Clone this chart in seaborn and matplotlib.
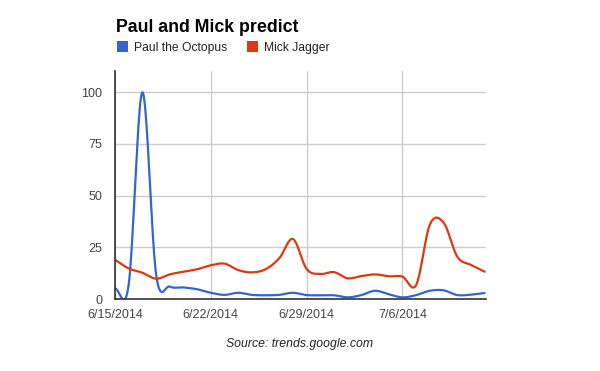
import numpy as np
import pandas as pd
import matplotlib
matplotlib.use("Agg")
import matplotlib.pyplot as plt
from matplotlib.patches import Patch
import seaborn as sns

# ---- data (daily Google Trends interest, 6/15/2014 .. 7/12/2014) ----
days = list(range(28))
paul = [5, 7, 100, 12, 6, 5.6, 4.7, 3, 2, 3, 2, 1.8, 2, 3, 1.9,
        1.8, 1.8, 0.8, 1.9, 4, 2.3, 0.8, 1.9, 4, 4.2, 1.9, 2.1, 2.9]
mick = [19, 14.8, 12.7, 9.8, 11.9, 13.2, 14.4, 16.3, 17.1, 14, 12.9, 14.4, 19.7, 29, 14.5,
        12.1, 13, 10, 11.1, 11.9, 11, 10.8, 6.8, 36, 37, 20.5, 16.5, 13.2]
series_names = ["Paul the Octopus", "Mick Jagger"]
tick_days = [0, 7, 14, 21]
tick_labels = ["6/15/2014", "6/22/2014", "6/29/2014", "7/6/2014"]
y_ticks = [0, 25, 50, 75, 100]

colors = {"Paul the Octopus": "#3366cc", "Mick Jagger": "#dc3912"}


def smooth(x, y, n=20):
    """Catmull-Rom rendering of the curve (like Google Charts curveType='function')."""
    x = np.asarray(x, float)
    y = np.asarray(y, float)
    m = np.gradient(y, x)
    xs, ys = [], []
    for i in range(len(x) - 1):
        h = x[i + 1] - x[i]
        t = np.linspace(0, 1, n, endpoint=False)
        h00 = 2 * t**3 - 3 * t**2 + 1
        h10 = t**3 - 2 * t**2 + t
        h01 = -2 * t**3 + 3 * t**2
        h11 = t**3 - t**2
        xs.append(x[i] + t * h)
        ys.append(h00 * y[i] + h10 * h * m[i] + h01 * y[i + 1] + h11 * h * m[i + 1])
    xs.append([x[-1]])
    ys.append([y[-1]])
    return np.concatenate(xs), np.concatenate(ys)


frames = []
for name, vals in zip(series_names, [paul, mick]):
    sx, sy = smooth(days, vals)
    frames.append(pd.DataFrame({"day": sx, "value": sy, "series": name}))
df = pd.concat(frames, ignore_index=True)

sns.set_theme(style="white")
plt.rcParams["font.family"] = ["Liberation Sans", "DejaVu Sans"]

fig = plt.figure(figsize=(6, 3.71), dpi=100)
ax = fig.add_axes([115 / 600, 1 - 299 / 371, (486 - 115) / 600, (299 - 71) / 371])

sns.lineplot(data=df, x="day", y="value", hue="series", palette=colors,
             hue_order=series_names, linewidth=1.6, ax=ax, legend=False, sort=False)

ax.set_xlim(0, 27.1)
ax.set_ylim(0, 110.3)
ax.set_yticks(y_ticks)
ax.set_yticklabels([str(v) for v in y_ticks])
ax.set_xticks(tick_days)
ax.set_xticklabels(tick_labels)
ax.set_xlabel("")
ax.set_ylabel("")
ax.tick_params(axis="both", length=0, labelsize=9, colors="#444444")
ax.tick_params(axis="x", pad=7)
ax.tick_params(axis="y", pad=9)
ax.grid(True, color="#cccccc", linewidth=1)
ax.set_axisbelow(True)
for s in ["top", "right"]:
    ax.spines[s].set_visible(False)
for s in ["left", "bottom"]:
    ax.spines[s].set_color("#333333")
    ax.spines[s].set_linewidth(1.2)
    ax.spines[s].set_zorder(5)

fig.text(116 / 600, 1 - 31.5 / 371, "Paul and Mick predict", fontsize=12.8,
         fontweight="bold", color="#000000", va="baseline", ha="left")

handles = [Patch(facecolor=colors[n], edgecolor="none", label=n) for n in series_names]
fig.legend(handles=handles, loc="center left", bbox_to_anchor=(106 / 600, 1 - 47.5 / 371),
           ncol=2, frameon=False, fontsize=8.7, handlelength=0.95, handleheight=0.95,
           handletextpad=0.5, columnspacing=1.6, labelcolor="#222222")

fig.text(300 / 600, 1 - 344 / 371, "Source: trends.google.com", fontsize=8.8,
         style="italic", color="#222222", ha="center", va="center")

fig.savefig("out.png", dpi=100)
